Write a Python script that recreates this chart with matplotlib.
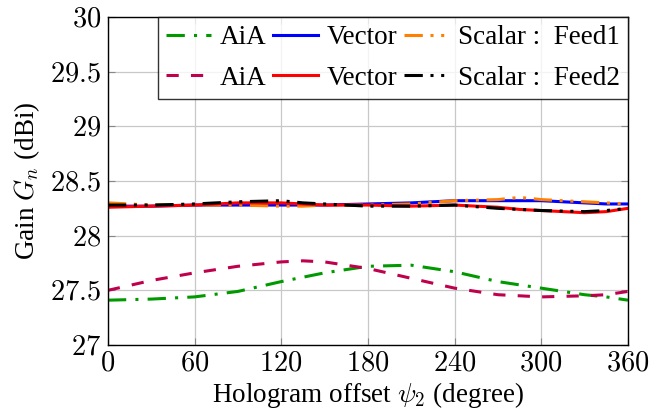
import matplotlib
matplotlib.use("Agg")
import matplotlib.pyplot as plt
import numpy as np

plt.rcParams['font.family'] = ['Liberation Serif', 'DejaVu Serif']
plt.rcParams['mathtext.fontset'] = 'cm'

psi = [0, 30, 60, 90, 120, 135, 150, 180, 210, 240, 270, 285, 300, 330, 345, 360]

aia_feed1 = [27.41, 27.42, 27.44, 27.49, 27.58, 27.62, 27.66, 27.72, 27.73, 27.67, 27.58, 27.55, 27.52, 27.46, 27.44, 27.41]
vec_feed1 = [28.27, 28.27, 28.28, 28.28, 28.28, 28.28, 28.28, 28.29, 28.30, 28.32, 28.32, 28.32, 28.32, 28.30, 28.29, 28.29]
sca_feed1 = [28.30, 28.28, 28.28, 28.28, 28.27, 28.27, 28.28, 28.28, 28.29, 28.32, 28.33, 28.35, 28.33, 28.31, 28.30, 28.29]

aia_feed2 = [27.50, 27.59, 27.66, 27.72, 27.76, 27.77, 27.76, 27.70, 27.61, 27.52, 27.46, 27.45, 27.44, 27.45, 27.46, 27.49]
vec_feed2 = [28.26, 28.27, 28.28, 28.30, 28.30, 28.29, 28.28, 28.28, 28.27, 28.28, 28.26, 28.24, 28.23, 28.21, 28.22, 28.25]
sca_feed2 = [28.28, 28.28, 28.29, 28.31, 28.32, 28.30, 28.29, 28.27, 28.27, 28.28, 28.25, 28.24, 28.23, 28.22, 28.23, 28.25]

xticks = [0, 60, 120, 180, 240, 300, 360]
yticks = [27, 27.5, 28, 28.5, 29, 29.5, 30]

fig = plt.figure(figsize=(6.5, 4.19), dpi=100)
ax = fig.add_axes([0.166, 0.1766, 0.800, 0.7828])

lw = 2.2
l1, = ax.plot(psi, aia_feed1, color=(0.0, 0.6, 0.0), lw=lw, dashes=(6, 3, 1, 3))
l2, = ax.plot(psi, vec_feed1, color=(0.0, 0.0, 1.0), lw=lw)
l3, = ax.plot(psi, sca_feed1, color=(1.0, 0.5, 0.0), lw=lw, dashes=(6, 2.5, 1, 2.5, 1, 2.5))
l4, = ax.plot(psi, aia_feed2, color=(0.75, 0.0, 0.3), lw=lw, dashes=(4, 4))
l5, = ax.plot(psi, vec_feed2, color=(1.0, 0.0, 0.0), lw=lw)
l6, = ax.plot(psi, sca_feed2, color='black', lw=lw, dashes=(6, 2.5, 1, 2.5, 1, 2.5))

ax.set_xlim(0, 360)
ax.set_ylim(27, 30)
ax.set_xticks(xticks)
ax.set_yticks(yticks)
ax.set_xticklabels([r'$%g$' % v for v in xticks])
ax.set_yticklabels([r'$%g$' % v for v in yticks])
ax.grid(True, color='#c8c8c8', lw=0.9)
ax.set_axisbelow(True)
ax.tick_params(direction='in', length=5, color='#888888', labelsize=20.5, top=True, right=True, pad=5)
for s in ax.spines.values():
    s.set_linewidth(1.0)

ax.set_xlabel(r'Hologram offset $\psi_2$ (degree)', fontsize=19.5, labelpad=2)
ax.set_ylabel(r'Gain $G_n$ (dBi)', fontsize=19.5, labelpad=6)

handles = [l1, l4, l2, l5, l3, l6]
labels = ['AiA', 'AiA', 'Vector', 'Vector', 'Scalar :  Feed1', 'Scalar :  Feed2']
leg = ax.legend(handles, labels, ncol=3, loc='upper right', bbox_to_anchor=(1.0, 1.0),
                fontsize=19.5, frameon=True, fancybox=False, edgecolor='black',
                handlelength=1.65, handletextpad=0.33, columnspacing=0.25,
                labelspacing=0.58, borderpad=0.3, borderaxespad=0)
leg.get_frame().set_linewidth(1.0)

fig.savefig('out.png', dpi=100)
